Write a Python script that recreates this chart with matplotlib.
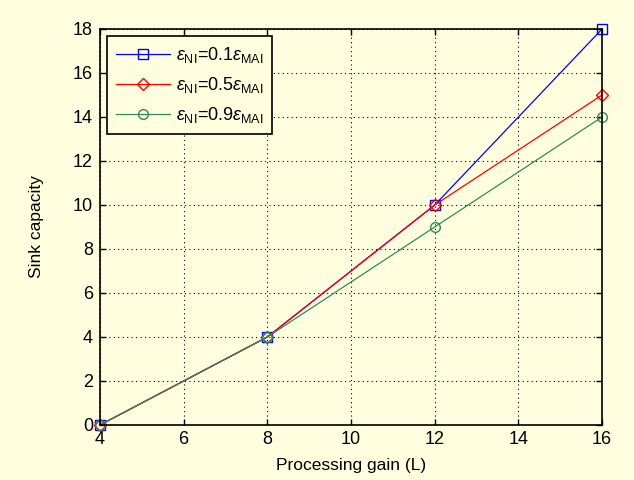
import matplotlib
matplotlib.use("Agg")
import matplotlib.pyplot as plt

x = [4, 8, 12, 16]
s1 = [0, 4, 10, 18]
s2 = [0, 4, 10, 15]
s3 = [0, 4, 9, 14]
labels = [r'$\varepsilon_{\mathrm{NI}}$=0.1$\varepsilon_{\mathrm{MAI}}$',
          r'$\varepsilon_{\mathrm{NI}}$=0.5$\varepsilon_{\mathrm{MAI}}$',
          r'$\varepsilon_{\mathrm{NI}}$=0.9$\varepsilon_{\mathrm{MAI}}$']

plt.rcParams['font.family'] = ['Liberation Sans', 'DejaVu Sans']
plt.rcParams['mathtext.fontset'] = 'custom'
plt.rcParams['mathtext.rm'] = 'Liberation Sans'
plt.rcParams['mathtext.it'] = 'Liberation Sans:italic'

bg = '#FFFFE0'
fig = plt.figure(figsize=(6.34, 4.8), dpi=100, facecolor=bg)
ax = fig.add_axes([0.1577, 0.1146, 0.792, 0.825], facecolor=bg)

ax.plot(x, s1, color='blue', marker='s', mfc='none', ms=7, lw=0.9, label=labels[0], clip_on=False)
ax.plot(x, s2, color='red', marker='D', mfc='none', ms=6, lw=0.9, label=labels[1], clip_on=False)
ax.plot(x, s3, color='#2E8B57', marker='o', mfc='none', ms=7, lw=0.9, label=labels[2], clip_on=False)

ax.set_xlim(4, 16)
ax.set_ylim(0, 18)
ax.set_xticks(range(4, 17, 2))
ax.set_yticks(range(0, 19, 2))
ax.tick_params(direction='in', length=4, labelsize=13, top=True, right=True, width=1)
ax.tick_params(axis='y', pad=5)
ax.tick_params(axis='x', pad=4)
ax.grid(True, color='black', linestyle=(0, (1, 3)), linewidth=0.8)
for sp in ax.spines.values():
    sp.set_linewidth(1.2)
ax.set_xlabel('Processing gain (L)', fontsize=12.5, labelpad=7.5)
ax.set_ylabel('Sink capacity', fontsize=12.5, labelpad=21)

leg = ax.legend(loc='upper left', fontsize=13, frameon=True, fancybox=False,
                edgecolor='black', facecolor=bg, framealpha=1,
                borderaxespad=0.4, handlelength=3.0, labelspacing=0.55,
                handletextpad=0.3, borderpad=0.5)
leg.get_frame().set_linewidth(1.2)

fig.savefig('out.png', dpi=100, facecolor=bg)
